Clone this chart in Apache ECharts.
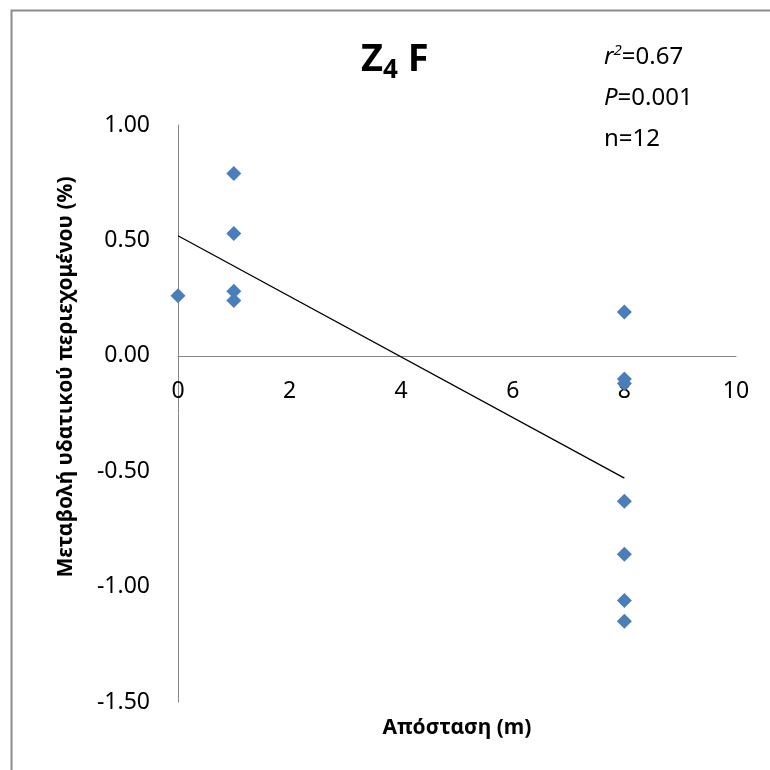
<!DOCTYPE html>
<html>
<head>
  <meta charset="utf-8">
  <script src="https://cdn.jsdelivr.net/npm/echarts@6/dist/echarts.min.js"></script>
  <style>
    html, body { margin: 0; padding: 0; background: #ffffff; }
    #main { width: 770px; height: 770px; }
  </style>
</head>
<body>
  <div id="main"></div>
  <script>
    // distance (m) and change of water content (%)
    var distX = [0, 1, 1, 1, 1, 8, 8, 8, 8, 8, 8, 8];
    var changeY = [0.26, 0.79, 0.53, 0.28, 0.24, 0.19, -0.10, -0.12, -0.63, -0.86, -1.06, -1.15];
    // trend line ends
    var trendX = [0, 8];
    var trendY = [0.52, -0.53];

    var font = '"Noto Sans", "DejaVu Sans", sans-serif';
    var chart = echarts.init(document.getElementById('main'));

    var points = distX.map(function (x, i) { return [x, changeY[i]]; });
    var trend = trendX.map(function (x, i) { return [x, trendY[i]]; });

    chart.setOption({
      animation: false,
      backgroundColor: '#ffffff',
      grid: { left: 178, right: 34, top: 125, bottom: 68, containLabel: false, outerBoundsMode: 'none' },
      graphic: [
        {
          type: 'rect',
          shape: { x: 11.5, y: 10.5, width: 800, height: 800 },
          style: { fill: 'none', stroke: '#8c8c8c', lineWidth: 2 },
          silent: true
        },
        {
          type: 'text',
          left: 361, top: 41,
          style: {
            text: '{z|Z}{s|4}{z| F}',
            rich: {
              z: { fontFamily: font, fontWeight: 'bold', fontSize: 38, fill: '#000' },
              s: { fontFamily: font, fontWeight: 'bold', fontSize: 26, fill: '#000', padding: [22, 0, 0, 0] }
            }
          }
        },
        {
          type: 'text',
          left: 604, top: 43,
          style: {
            text: '{i|r}{sup|2}{n|=0.67}\n{i|P}{n|=0.001}\n{n|n=12}',
            rich: {
              i: { fontFamily: font, fontStyle: 'italic', fontSize: 24, fill: '#000', lineHeight: 41 },
              sup: { fontFamily: font, fontStyle: 'italic', fontSize: 15, fill: '#000', padding: [0, 0, 14, 0], lineHeight: 41 },
              n: { fontFamily: font, fontSize: 24, fill: '#000', lineHeight: 41 }
            }
          }
        },
        {
          type: 'text',
          x: 66, y: 377,
          rotation: Math.PI / 2,
          style: {
            text: 'Μεταβολή υδατικού περιεχομένου (%)',
            fontFamily: font, fontWeight: 'bold', fontSize: 21, fill: '#000',
            align: 'center', verticalAlign: 'middle'
          }
        },
        {
          type: 'text',
          x: 457, y: 728,
          style: {
            text: 'Απόσταση (m)',
            fontFamily: font, fontWeight: 'bold', fontSize: 21, fill: '#000',
            align: 'center', verticalAlign: 'middle'
          }
        }
      ],
      xAxis: {
        type: 'value',
        min: 0, max: 10, interval: 2,
        axisLine: { onZero: true, lineStyle: { color: '#868686', width: 1 } },
        axisTick: { show: false },
        splitLine: { show: false },
        axisLabel: { margin: -322, fontFamily: font, fontSize: 23, color: '#000' }
      },
      yAxis: {
        type: 'value',
        min: -1.5, max: 1.0, interval: 0.5,
        axisLine: { show: true, onZero: false, lineStyle: { color: '#868686', width: 1 } },
        axisTick: { show: false },
        splitLine: { show: false },
        axisLabel: {
          margin: 28, fontFamily: font, fontSize: 23, color: '#000',
          formatter: function (v) { return v.toFixed(2); }
        }
      },
      series: [
        {
          type: 'line',
          data: trend,
          symbol: 'none',
          lineStyle: { color: '#000', width: 1.3 },
          z: 2
        },
        {
          type: 'scatter',
          data: points,
          symbol: 'diamond',
          symbolSize: [15, 15],
          itemStyle: { color: '#4A7EBB', opacity: 1 },
          z: 3
        }
      ]
    });
  </script>
</body>
</html>
